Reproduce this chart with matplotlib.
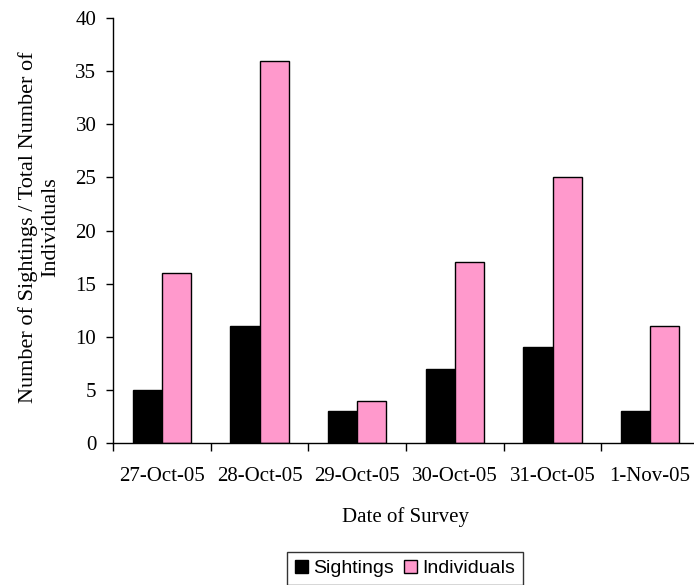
import matplotlib
matplotlib.use("Agg")
import matplotlib.pyplot as plt
import numpy as np
from matplotlib.patches import Patch

dates = ["27-Oct-05", "28-Oct-05", "29-Oct-05", "30-Oct-05", "31-Oct-05", "1-Nov-05"]
sightings = [5, 11, 3, 7, 9, 3]
individuals = [16, 36, 4, 17, 25, 11]
yticks = [0, 5, 10, 15, 20, 25, 30, 35, 40]

plt.rcParams['font.family'] = ['Liberation Serif', 'DejaVu Serif']

W, H = 694, 585
fig = plt.figure(figsize=(W / 100, H / 100), dpi=100)
left, right, top, bottom = 113, 699, 18, 443
ax = fig.add_axes([left / W, 1 - bottom / H, (right - left) / W, (bottom - top) / H])

x = np.arange(len(dates))
bw = 0.30
ax.bar(x - bw / 2, sightings, bw, color='black', edgecolor='black', linewidth=1, label='Sightings')
ax.bar(x + bw / 2, individuals, bw, color='#FF99CC', edgecolor='black', linewidth=1, label='Individuals')

ax.set_xlim(-0.5, len(dates) - 0.5)
ax.set_ylim(0, 40)
ax.set_yticks(yticks)
ax.set_yticklabels([str(v) for v in yticks], fontsize=15)
ax.set_xticks(x)
ax.set_xticklabels(dates, fontsize=15)
ax.tick_params(axis='x', length=0, pad=17)
ax.set_xticks(np.arange(len(dates) + 1) - 0.5, minor=True)
ax.tick_params(axis='x', which='minor', length=6, direction='out', width=1)
ax.tick_params(axis='y', length=5, direction='out', width=1, pad=7)

ax.spines['top'].set_visible(False)
ax.spines['right'].set_visible(False)
for s in ('left', 'bottom'):
    ax.spines[s].set_linewidth(1)

ax.set_ylabel("Number of Sightings / Total Number of\nIndividuals", fontsize=16, linespacing=1.2)
ax.yaxis.set_label_coords((60 - left) / (right - left), (bottom - 227) / (bottom - top))
ax.set_xlabel("Date of Survey", fontsize=15)
ax.xaxis.set_label_coords(0.5, (bottom - 507) / (bottom - top))

handles = [Patch(facecolor='black', edgecolor='black', label='Sightings'),
           Patch(facecolor='#FF99CC', edgecolor='black', label='Individuals')]
leg = fig.legend(handles=handles, loc='upper center', bbox_to_anchor=(405 / W, 1 - 552 / H),
                 ncol=2, frameon=True, fancybox=False, edgecolor='black',
                 prop={'family': 'Liberation Sans', 'size': 14},
                 handlelength=0.7, handleheight=0.7, handletextpad=0.25, columnspacing=0.5,
                 borderpad=0.4, borderaxespad=0)
leg.get_frame().set_linewidth(1)

fig.savefig("out.png", dpi=100)
